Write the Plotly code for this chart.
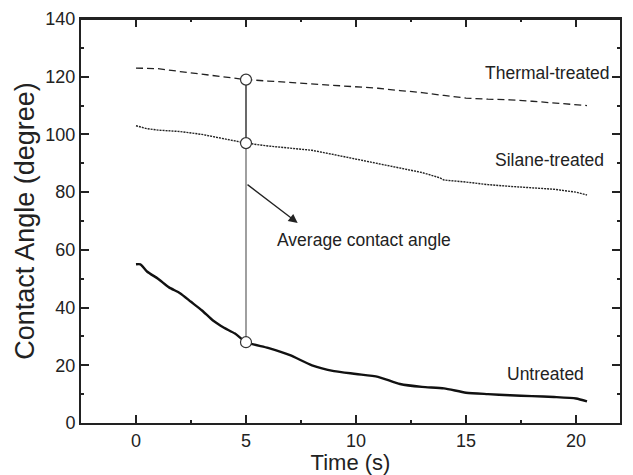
import plotly.graph_objects as go

# Data
t_thermal = [0, 1, 2, 3, 4, 5, 6, 7, 8, 9, 10, 11, 12, 13, 14, 15, 16, 17, 18, 19, 20, 20.5]
thermal = [123, 122.8, 121.8, 120.8, 119.8, 119, 118.5, 118, 117.5, 117, 116.5, 116, 115.2, 114.5, 113.5, 112.6, 112.2, 112, 111.5, 111, 110.4, 110]

t_silane = [0, 0.5, 1, 2, 3, 4, 5, 6, 7, 8, 9, 10, 11, 12, 13, 13.8, 14, 15, 16, 17, 18, 19, 20, 20.5]
silane = [103, 102, 101.5, 101, 100, 98.5, 97, 96, 95.2, 94.5, 93, 91.5, 90, 88.5, 86.8, 85, 84.2, 83.5, 82.6, 82, 81.5, 81, 80, 79]

t_untreated = [0, 0.2, 0.5, 1, 1.5, 2, 2.5, 3, 3.5, 4, 4.5, 5, 6, 7, 8, 9, 10, 11, 12, 13, 14, 15, 16, 17, 18, 19, 20, 20.5]
untreated = [55, 55, 52.5, 50, 47, 45, 42, 39, 35.5, 33, 31, 28, 26, 23.5, 20, 18, 17, 16, 13.5, 12.5, 12, 10.5, 10, 9.6, 9.3, 9, 8.5, 7.5]

avg_t = [5, 5, 5]
avg_vals = [119, 97, 28]

labels = ["Thermal-treated", "Silane-treated", "Untreated"]
label_x = [18.7, 18.8, 18.6]
label_y = [121.2, 91.2, 17]

FONT = "Liberation Sans, Arial, sans-serif"
INK = "#222"

fig = go.Figure()
fig.add_trace(go.Scatter(x=t_thermal, y=thermal, mode="lines",
                         line=dict(color=INK, width=1.3, dash="7px,4px")))
fig.add_trace(go.Scatter(x=t_silane, y=silane, mode="lines",
                         line=dict(color=INK, width=1.4, dash="2px,1px")))
fig.add_trace(go.Scatter(x=t_untreated, y=untreated, mode="lines",
                         line=dict(color="#111", width=2.4, shape="spline", smoothing=0.6)))
# vertical connector
fig.add_trace(go.Scatter(x=avg_t[:2], y=avg_vals[:2], mode="lines",
                         line=dict(color="#444", width=1.6)))
fig.add_trace(go.Scatter(x=avg_t[1:], y=avg_vals[1:], mode="lines",
                         line=dict(color="#888", width=1.6)))
fig.add_trace(go.Scatter(x=avg_t, y=avg_vals, mode="markers",
                         marker=dict(symbol="circle", size=11, color="white",
                                     line=dict(color="#333", width=1.2))))

for txt, xx, yy in zip(labels, label_x, label_y):
    fig.add_annotation(x=xx, y=yy, text=txt, showarrow=False,
                       font=dict(family=FONT, size=17.5, color=INK))

fig.add_annotation(x=7.35, y=69.3, ax=5, ay=83, xref="x", yref="y", axref="x", ayref="y",
                   text="", showarrow=True, arrowhead=2, arrowsize=1.4, arrowwidth=1.3,
                   arrowcolor=INK)
fig.add_annotation(x=10.35, y=63.4, text="Average contact angle", showarrow=False,
                   font=dict(family=FONT, size=17.5, color=INK))

# top frame line of the plot box
fig.add_shape(type="line", xref="paper", yref="paper", x0=0, x1=1, y0=1, y1=1,
              line=dict(color=INK, width=2))

axis_common = dict(showline=True, linecolor=INK, linewidth=2, mirror="ticks",
                   ticks="inside", ticklen=8, tickwidth=1.5, tickcolor=INK,
                   showgrid=False, zeroline=False, automargin=False,
                   ticklabeloverflow="allow",
                   tickfont=dict(family=FONT, size=18, color=INK))

fig.update_xaxes(range=[-2.5, 22], tickvals=[0, 5, 10, 15, 20],
                 minor=dict(ticks="inside", ticklen=3, tickwidth=1.5, tickcolor=INK, dtick=2.5, tick0=0),
                 title=dict(text="Time (s)", font=dict(family=FONT, size=22, color=INK),
                            standoff=7),
                 **axis_common)
fig.update_yaxes(range=[0, 140], tickvals=[0, 20, 40, 60, 80, 100, 120, 140],
                 minor=dict(ticks="inside", ticklen=3, tickwidth=1.5, tickcolor=INK, dtick=10, tick0=0),
                 title=dict(text="Contact Angle (degree)", font=dict(family=FONT, size=27, color=INK),
                            standoff=3),
                 **axis_common)

# the page body adds an 8px offset; the figure is sized to fit the window
fig.update_layout(width=625, height=467, showlegend=False,
                  margin=dict(l=73, r=13, t=11, b=52),
                  plot_bgcolor="white", paper_bgcolor="white")

fig.write_html("out.html")
